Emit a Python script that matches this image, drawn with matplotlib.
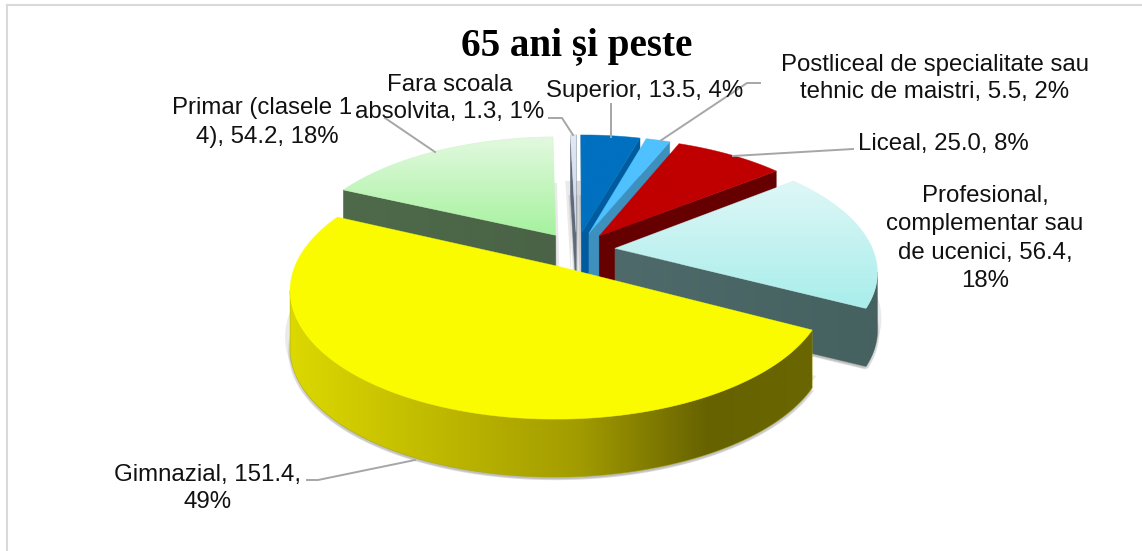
import numpy as np
import matplotlib
matplotlib.use('Agg')
import matplotlib.pyplot as plt
from matplotlib.colors import LinearSegmentedColormap
from matplotlib.patches import Polygon

# clockwise from 12 o'clock
categories = ['Superior', 'Postliceal', 'Liceal', 'Profesional', 'Gimnazial', 'Primar', 'Fara scoala']
values = [13.5, 5.5, 25.0, 56.4, 151.4, 54.2, 1.3]

top_start = ['#0070C0', '#4FC1FF', '#C00000', '#DFF7F7', '#FBFB00', '#E3F9E0', '#E4EAF4']
top_end = ['#0070C0', '#4FC1FF', '#C00000', '#A8EEEB', '#FBFB00', '#A6F29E', '#C6D4E8']
wall_start = ['#005C9E', '#3E90BE', '#660000', '#4F6A6A', '#DCD800', '#4F6A4B', '#5F6B7A']
wall_end = ['#005C9E', '#3E90BE', '#660000', '#456160', '#666200', '#4A6346', '#5F6B7A']

title = '65 ani și peste'

# perspective and extrusion of the pie, in pixels
cx, cy, rx, ry = 576.5, 250, 258, 120
tilt = 0.172
explode = 0.15
depth = 58


def project(u, v):
    s = 1 + tilt * v
    return np.column_stack([cx + rx * u / s, cy - ry * v / s])


def slice_outline(a0, a1):
    mid = np.radians((a0 + a1) / 2)
    ox, oy = explode * np.sin(mid), explode * np.cos(mid)
    t = np.radians(np.linspace(a0, a1, max(int(a1 - a0) * 2, 2) + 1))
    u = np.r_[ox, ox + np.sin(t)]
    v = np.r_[oy, oy + np.cos(t)]
    return project(u, v)


def gradient_fill(ax, pts, c0, c1, horizontal=False, cmap=None, zorder=2):
    poly = Polygon(pts, closed=True, facecolor='none', edgecolor='none', zorder=zorder)
    ax.add_patch(poly)
    x0, x1 = pts[:, 0].min(), pts[:, 0].max()
    y0, y1 = pts[:, 1].min(), pts[:, 1].max()
    if cmap is None:
        cmap = LinearSegmentedColormap.from_list('g', [c0, c1])
    ramp = np.linspace(0, 1, 256)
    img = ramp[None, :] if horizontal else ramp[:, None]
    im = ax.imshow(img, cmap=cmap, vmin=0, vmax=1, aspect='auto', extent=(x0, x1, y1, y0),
                   origin='upper', interpolation='bilinear', zorder=zorder)
    im.set_clip_path(poly)
    # soften the hard clip edge
    ax.add_patch(Polygon(pts, closed=True, facecolor='none', edgecolor=cmap(0.5), lw=0.5,
                         alpha=0.6, zorder=zorder))


fig = plt.figure(figsize=(11.42, 5.51), dpi=100)
ax = fig.add_axes([0, 0, 1, 1])

fractions = np.array(values) / sum(values) * 360
edges = np.r_[0, np.cumsum(fractions)]
outlines = [slice_outline(edges[i], edges[i + 1]) for i in range(len(values))]

yellow_cmap = LinearSegmentedColormap.from_list(
    'yw', [(0, '#DCD800'), (0.3, '#BDB700'), (0.55, '#A39C00'), (0.8, '#666200'), (1, '#6A6600')])

# paint order, back to front
order = [6, 5, 0, 1, 2, 3, 4]
z = 2
for i in order:
    pts = outlines[i]
    z += 1
    # soft shadow below the extruded block
    base = pts + [0, depth]
    for dx, dy in [(-5, -12), (4, -12), (-2, 2), (2, 2), (-1, 3), (1, 3)]:
        ax.add_patch(Polygon(base + [dx, dy], closed=True, facecolor='#808080', edgecolor='none',
                             alpha=0.16, zorder=z))
    z += 1
    arc_top = pts[1:]
    # radial walls that face the viewer
    for a, b in [(pts[-1], pts[0]), (pts[0], pts[1])]:
        if b[0] < a[0]:
            quad = np.array([a, b, b + [0, depth], a + [0, depth]])
            gradient_fill(ax, quad, wall_start[i], wall_end[i], horizontal=True, zorder=z)
    # outer wall, only where the rim faces down
    keep = np.where(np.diff(arc_top[:, 0]) < 0)[0]
    if len(keep):
        rim = arc_top[keep[0]:keep[-1] + 2]
        quad = np.vstack([rim, (rim + [0, depth])[::-1]])
        if i == 4:
            gradient_fill(ax, quad, None, None, horizontal=True, cmap=yellow_cmap, zorder=z)
        else:
            gradient_fill(ax, quad, wall_end[i], wall_end[i], horizontal=True, zorder=z)
    z += 1
    gradient_fill(ax, pts, top_start[i], top_end[i], zorder=z)

# chart frame, top and left sides only
ax.plot([6.5, 1142], [4.5, 4.5], color='#D9D9D9', lw=1.5, zorder=1)
ax.plot([6.5, 6.5], [4.5, 551], color='#D9D9D9', lw=1.5, zorder=1)

leaders = [
    ([611, 611], [104, 137]),
    ([760, 747, 660], [83, 83, 141]),
    ([853, 733], [149, 156]),
    ([549, 562, 573], [118, 118, 135]),
    ([385, 435], [118, 152]),
    ([307, 318, 415], [480, 480, 460]),
]
for xs, ys in leaders:
    ax.plot(xs, ys, color='#A6A6A6', lw=1.4, zorder=30)

font = dict(family='Liberation Sans', fontsize=17.3, color='#111111', va='center', zorder=31)
ax.text(645, 91, 'Superior, 13.5, 4%', ha='center', **font)
ax.text(935, 65, 'Postliceal de specialitate sau', ha='center', **font)
ax.text(935, 92, 'tehnic de maistri, 5.5, 2%', ha='center', **font)
ax.text(943, 144, 'Liceal, 25.0, 8%', ha='center', **font)
ax.text(985, 196, 'Profesional,', ha='center', **font)
ax.text(985, 224, 'complementar sau', ha='center', **font)
ax.text(985, 253, 'de ucenici, 56.4,', ha='center', **font)
ax.text(985, 281, '18%', ha='center', **font)
ax.text(208, 475, 'Gimnazial, 151.4,', ha='center', **font)
ax.text(208, 502, '49%', ha='center', **font)
ax.text(172, 108, 'Primar (clasele 1', ha='left', **font)
ax.text(267, 137, '4), 54.2, 18%', ha='center', **font)
ax.text(450, 85, 'Fara scoala', ha='center', **font)
ax.text(450, 112, 'absolvita, 1.3, 1%', ha='center', **font)
ax.text(577, 46, title, ha='center', va='center', family='Liberation Serif', fontweight='bold',
        fontsize=28.2, color='black', zorder=31)

ax.set_xlim(0, 1142)
ax.set_ylim(551, 0)
ax.axis('off')

fig.savefig('out.png', dpi=100, facecolor='white')
